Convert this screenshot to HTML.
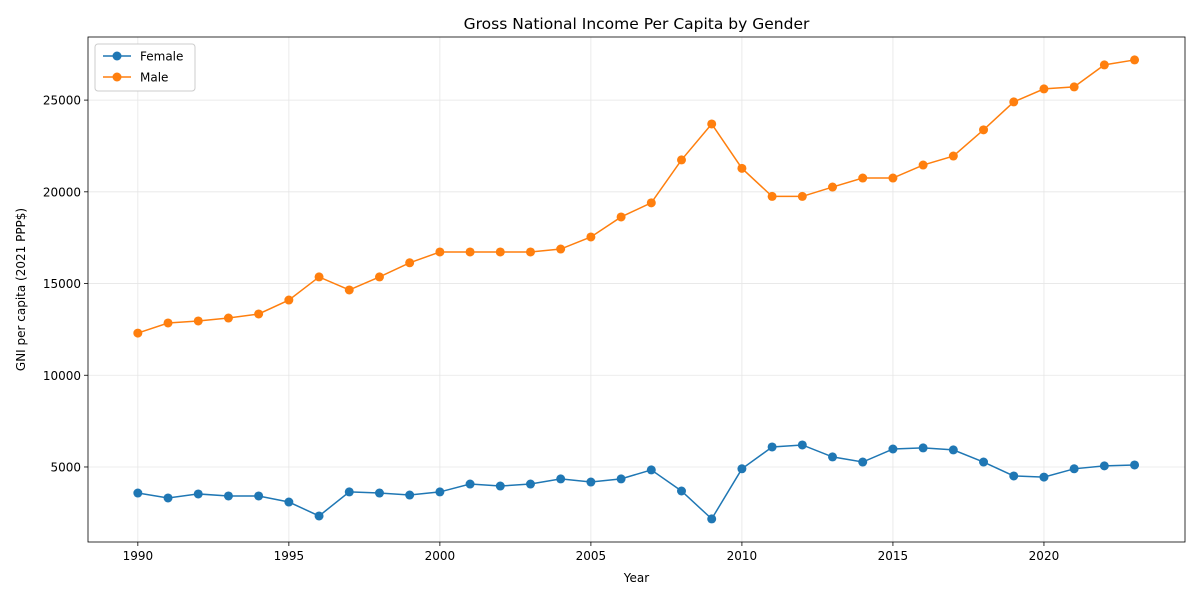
<!DOCTYPE html>
<html><head><meta charset="utf-8"><style>
body{margin:0;background:#fff;font-family:"Liberation Sans","DejaVu Sans",sans-serif;}
svg text{font-family:"DejaVu Sans","Liberation Sans",sans-serif;}
</style></head><body>
<svg id="c" width="1200" height="600" xmlns="http://www.w3.org/2000/svg"></svg>
<script>
const years=[1990,1991,1992,1993,1994,1995,1996,1997,1998,1999,2000,2001,2002,2003,2004,2005,2006,2007,2008,2009,2010,2011,2012,2013,2014,2015,2016,2017,2018,2019,2020,2021,2022,2023];
const femaleValues=[3580,3310,3530,3420,3420,3090,2330,3640,3580,3470,3640,4070,3960,4070,4350,4180,4350,4840,3690,2170,4900,6090,6200,5550,5270,5980,6040,5930,5270,4510,4450,4900,5060,5110];
const maleValues=[12300,12850,12960,13120,13340,14100,15360,14650,15360,16130,16720,16720,16720,16720,16880,17540,18630,19400,21740,23700,21280,19750,19750,20260,20750,20750,21460,21950,23380,24900,25610,25720,26920,27190];
const xTicks=[1990,1995,2000,2005,2010,2015,2020];
const yTicks=[5000,10000,15000,20000,25000];
const L=88,R=1185,T=37,B=542;
const xMin=1988.35,xMax=2024.67,yMin=910,yMax=28440;
const sx=v=>L+(v-xMin)/(xMax-xMin)*(R-L);
const sy=v=>B-(v-yMin)/(yMax-yMin)*(B-T);
const svg=document.getElementById('c');
const NS='http://www.w3.org/2000/svg';
function mk(tag,attrs,parent){const e=document.createElementNS(NS,tag);for(const k in attrs)e.setAttribute(k,attrs[k]);(parent||svg).appendChild(e);return e;}
function txt(s,attrs,name){const e=mk('text',attrs);e.textContent=s;


return e;}
xTicks.forEach(t=>{const g=mk('line',{x1:sx(t),x2:sx(t),y1:T,y2:B,stroke:'#e6e6e6','stroke-width':0.8});


const k=mk('line',{x1:sx(t),x2:sx(t),y1:B,y2:B+4,stroke:'#000','stroke-width':0.8});


txt(t,{x:sx(t),y:B+18,'font-size':12,'text-anchor':'middle'},'x-tick-label');});
yTicks.forEach(t=>{const g=mk('line',{x1:L,x2:R,y1:sy(t),y2:sy(t),stroke:'#e6e6e6','stroke-width':0.8});


const k=mk('line',{x1:L-4,x2:L,y1:sy(t),y2:sy(t),stroke:'#000','stroke-width':0.8});


txt(t,{x:L-7,y:sy(t)+4.5,'font-size':12,'text-anchor':'end'},'y-tick-label');});
const frame=mk('rect',{x:L,y:T,width:R-L,height:B-T,fill:'none',stroke:'#000','stroke-width':0.8});


function series(vals,color,name){
const p=mk('polyline',{points:years.map((y,i)=>sx(y)+','+sy(vals[i])).join(' '),fill:'none',stroke:color,'stroke-width':1.5});


years.forEach((y,i)=>{const c=mk('circle',{cx:sx(y),cy:sy(vals[i]),r:4.5,fill:color});

});}
series(femaleValues,'#1f77b4','female');
series(maleValues,'#ff7f0e','male');
txt('Gross National Income Per Capita by Gender',{x:(L+R)/2,y:29,'font-size':15.5,'text-anchor':'middle'},'chart-title');
txt('Year',{x:(L+R)/2,y:582,'font-size':12,'text-anchor':'middle'},'x-axis-title');
txt('GNI per capita (2021 PPP$)',{x:25,y:(T+B)/2,'font-size':12,'text-anchor':'middle',transform:'rotate(-90 25 '+(T+B)/2+')'},'y-axis-title');
const lg=mk('rect',{x:95,y:44,width:100,height:47,rx:3,fill:'#fff',stroke:'#ccc','stroke-width':1});


[['Female','#1f77b4',56],['Male','#ff7f0e',77]].forEach(([n,c,y])=>{
const l=mk('line',{x1:103,x2:131,y1:y,y2:y,stroke:c,'stroke-width':1.5});


const m=mk('circle',{cx:117,cy:y,r:4.5,fill:c});


txt(n,{x:140,y:y+4.5,'font-size':12},'legend-entry');});
</script>
</body></html>
